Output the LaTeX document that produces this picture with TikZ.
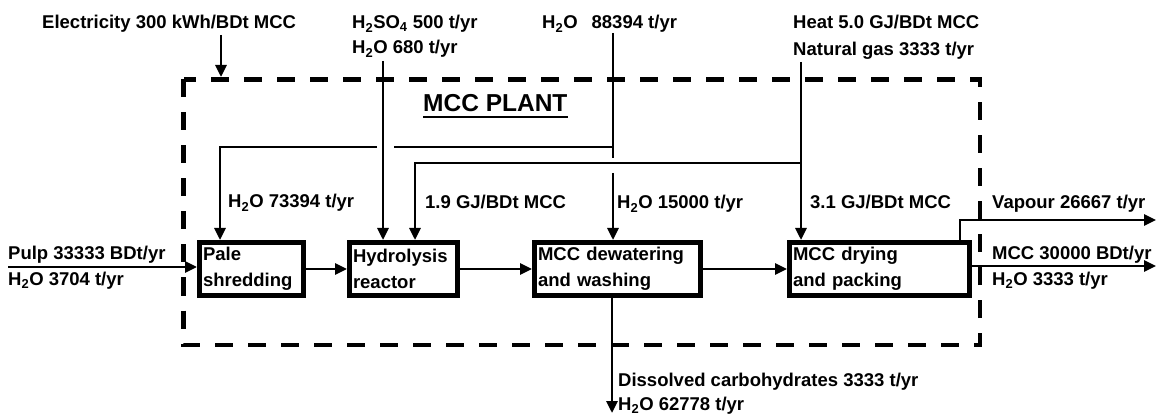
\documentclass[tikz,border=0pt]{standalone}
\usepackage{fontspec}
\setmainfont{Liberation Sans}
\usetikzlibrary{arrows.meta}
\newcommand{\HtwoO}{H\textsubscript{2}O}

\begin{document}
\begin{tikzpicture}[x=1pt,y=-1pt,
  every node/.style={font=\bfseries\fontsize{18.5}{26}\selectfont},
  lbl/.style={anchor=base west, inner sep=0pt},
  unit/.style={draw, line width=5pt, minimum height=53pt, text width=#1, align=left, inner xsep=3.5pt, inner ysep=0pt},
  pipe/.style={line width=2.8pt},
  flow/.style={pipe, -{Triangle[length=12pt,width=11pt]}},
  plant/.style={line width=4.7pt, dash pattern=on 18pt off 15pt}]
\useasboundingbox (0,0) rectangle (1157,414);

% Plant boundary
\draw[plant] (183.5,79.5) rectangle (980,345);
\node[lbl, font=\bfseries\fontsize{24.5}{28}\selectfont] (title) at (423,112) {MCC PLANT};
\draw[line width=2pt] ([yshift=-5pt]title.base west) -- ([yshift=-5pt]title.base east);

% Process units
\node[unit=97pt] (shred) at (251.5,269) {Pale\\shredding};
\node[unit=101pt] (hydro) at (403.5,269) {Hydrolysis\\reactor};
\node[unit=159pt] (dewat) at (617.5,269) {MCC dewatering\\and washing};
\node[unit=173pt] (dry) at (879.5,269) {MCC drying\\and packing};

\draw[flow] (shred) -- (hydro);
\draw[flow] (hydro) -- (dewat);
\draw[flow] (dewat) -- (dry);

% Inputs at the top
\node[lbl] (elec) at (42,29) {Electricity 300 kWh/BDt MCC};
\node[lbl] (acid) at (352,29) {H\textsubscript{2}SO\textsubscript{4} 500 t/yr};
\node[lbl] (acidw) at (352,54) {\HtwoO{} 680 t/yr};
\node[lbl] (water) at (542,29) {\HtwoO\hspace{14pt}88394 t/yr};
\node[lbl] (heat) at (793,29) {Heat 5.0 GJ/BDt MCC};
\node[lbl] (gas) at (793,56) {Natural gas 3333 t/yr};

\coordinate (elecout) at (221,35);
\coordinate (elecin) at (221,77);
\draw[flow] (elecout) -- (elecin);

\coordinate (acidtop) at (383,61);
\draw[flow] (acidtop) -- (acidtop |- hydro.north);

% Water split, with gaps where lines cross
\coordinate (wtop) at (613,33);
\coordinate (wsplit) at (613,147);
\coordinate (wbreak) at (613,158);
\coordinate (wres) at (613,173);
\coordinate (hopR) at (394,147);
\coordinate (hopL) at (377,147);
\coordinate (wturn) at (220,147);
\draw[pipe] (wtop) -- (wbreak);
\draw[pipe] (wsplit) -- (hopR);
\draw[flow] (hopL) -- (wturn) -- (wturn |- shred.north);
\draw[flow] (wres) -- (wres |- dewat.north);

% Heat split
\coordinate (heattop) at (801,62);
\coordinate (hsplit) at (801,163);
\coordinate (hturn) at (415,163);
\draw[flow] (heattop) -- (heattop |- dry.north);
\draw[flow] (hsplit) -- (hturn) -- (hturn |- hydro.north);

\node[lbl] (wshred) at (228,208) {\HtwoO{} 73394 t/yr};
\node[lbl] (hhydro) at (425,209) {1.9 GJ/BDt MCC};
\node[lbl] (wwash) at (617,209) {\HtwoO{} 15000 t/yr};
\node[lbl] (hdry) at (810,209) {3.1 GJ/BDt MCC};

% Feed
\node[lbl] (pulp) at (8,260) {Pulp 33333 BDt/yr};
\node[lbl] (pulpw) at (8,285) {\HtwoO{} 3704 t/yr};
\coordinate (pulpin) at (8,267);
\draw[flow] (pulpin) -- (pulpin -| shred.west);

% Products
\node[lbl] (vap) at (992,209) {Vapour 26667 t/yr};
\node[lbl] (prod) at (992,260) {MCC 30000 BDt/yr};
\node[lbl] (prodw) at (992,285) {\HtwoO{} 3333 t/yr};
\coordinate (vapup) at (960,220);
\coordinate (vapout) at (1156,220);
\coordinate (prodout) at (1156,266);
\draw[flow] (vapup |- dry.north) -- (vapup) -- (vapout);
\draw[flow] (prodout -| dry.east) -- (prodout);

% Effluent
\coordinate (dissout) at (612,413);
\draw[flow] (dissout |- dewat.south) -- (dissout);
\node[lbl] (diss) at (618,386) {Dissolved carbohydrates 3333 t/yr};
\node[lbl] (dissw) at (618,410) {\HtwoO{} 62778 t/yr};
\end{tikzpicture}
\end{document}
